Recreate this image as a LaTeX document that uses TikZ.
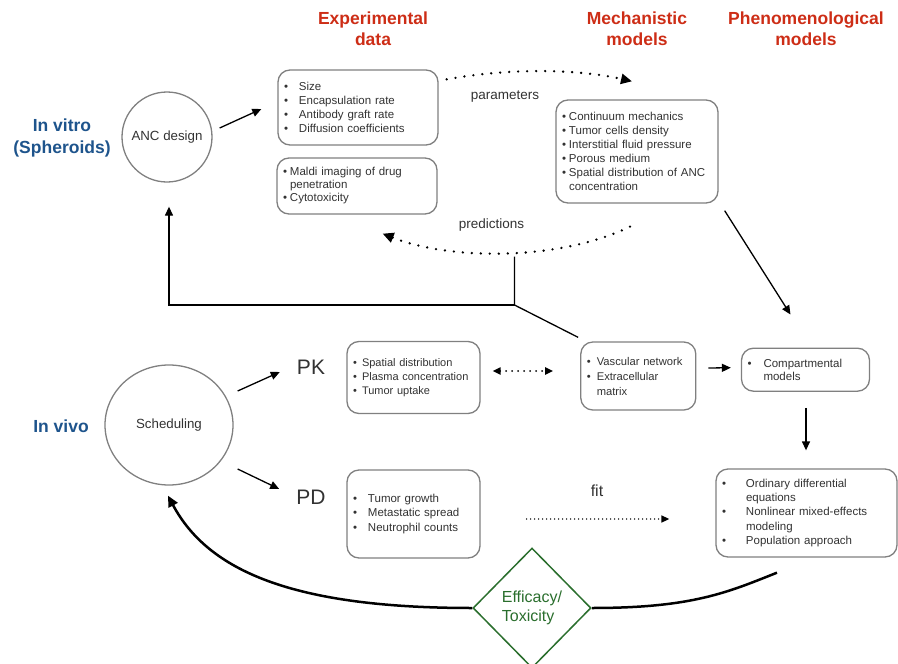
\documentclass[tikz,border=0pt]{standalone}
\usepackage{fontspec}
\setmainfont{Liberation Sans}
\usepackage{xcolor}
\usepackage{tikz}
\usetikzlibrary{arrows.meta, positioning, calc, shapes.geometric}
\definecolor{TitleRed}{RGB}{205, 45, 22}
\definecolor{SideBlue}{RGB}{30, 84, 140}
\definecolor{LineGray}{RGB}{128, 128, 128}
\definecolor{TextGray}{RGB}{50, 50, 50}
\definecolor{EffGreen}{RGB}{42, 110, 45}
\newcommand{\bul}[1][13pt]{\makebox[#1][l]{\textbullet}}
\newcommand{\bulind}[1][13pt]{\hspace*{#1}}
\newcommand{\fsz}[2]{\fontsize{#1}{#2}\selectfont}

\begin{document}
\begin{tikzpicture}[
    x=1pt, y=-1pt,
    listbox/.style={draw=LineGray, line width=1.3pt, rounded corners=12pt,
      align=left, inner xsep=6pt, inner ysep=0pt, text=TextGray,
      font=\fsz{11.5}{14}},
    stagecirc/.style={draw=LineGray, line width=1.3pt, inner sep=0pt,
      text=TextGray, font=\fsz{13.3}{16}},
    headline/.style={align=center, text=TitleRed, font=\bfseries\fsz{17.5}{21}},
    sidelabel/.style={align=center, text=SideBlue, font=\bfseries\fsz{17.5}{22}},
    plainlabel/.style={text=TextGray, font=\fsz{13.5}{16}},
    phaselabel/.style={inner sep=0pt, text=TextGray, font=\fsz{21}{24}},
    arr/.style={line width=1.3pt, -{Triangle[length=9pt, width=8pt]}},
    dotarr/.style={line width=2.6pt, line cap=round, dash pattern=on 0pt off 9pt,
      -{Triangle[length=11pt, width=10pt]}},
    dotboth/.style={line width=2pt, line cap=round, dash pattern=on 0pt off 6pt,
      {Triangle[length=8pt, width=7pt]}-{Triangle[length=8pt, width=7pt]}},
    dotfit/.style={line width=1.6pt, line cap=round, dash pattern=on 0pt off 4pt,
      -{Triangle[length=8pt, width=7pt]}},
    loopcurve/.style={line width=2.5pt},
    loopline/.style={loopcurve, -{Triangle[length=11pt, width=10pt]}}
  ]
  \useasboundingbox (0,0) rectangle (898,664);

  \node[sidelabel] (vitrolabel) at (62,137.5) {In vitro\\(Spheroids)};
  \node[sidelabel] (vivolabel) at (61,426) {In vivo};
  \node[headline] (exphead) at (373,29) {Experimental\\data};
  \node[headline] (mechhead) at (637,29) {Mechanistic\\models};
  \node[headline] (phenhead) at (806,29) {Phenomenological\\models};

  \node[stagecirc, circle, minimum size=90pt] (ancnode) at (167,137) {ANC design};
  \node[stagecirc, ellipse, minimum width=128pt, minimum height=120pt]
    (schednode) at (169,425) {Scheduling};

  \node[listbox, text width=148pt, minimum height=75pt] (sizebox) at (358,107.5) {
    \bul[15pt]Size\\
    \bul[15pt]Encapsulation rate\\
    \bul[15pt]Antibody graft rate\\
    \bul[15pt]Diffusion coefficients};
  \node[listbox, text width=148pt, minimum height=56pt, font=\fsz{11.5}{13}]
    (maldibox) at (357,186) {
    \bul[7pt]Maldi imaging of drug\\
    \bulind[7pt]penetration\\
    \bul[7pt]Cytotoxicity};
  \node[listbox, text width=150pt, minimum height=103pt] (mechbox) at (637,151.5) {
    \bul[7pt]Continuum mechanics\\
    \bul[7pt]Tumor cells density\\
    \bul[7pt]Interstitial fluid pressure\\
    \bul[7pt]Porous medium\\
    \bul[7pt]Spatial distribution of ANC\\
    \bulind[7pt]concentration};

  \node[phaselabel] (pklabel) at (311,367) {PK};
  \node[phaselabel] (pdlabel) at (311,497) {PD};

  \node[listbox, text width=121pt, minimum height=72pt, font=\fsz{11}{14.2}]
    (pkbox) at (413.5,377.5) {
    \bul[9pt]Spatial distribution\\
    \bul[9pt]Plasma concentration\\
    \bul[9pt]Tumor uptake};
  \node[listbox, text width=103pt, minimum height=68pt, font=\fsz{11.2}{15}]
    (vascbox) at (638.3,376) {
    \bul[10pt]Vascular network\\
    \bul[10pt]Extracellular\\
    \bulind[10pt]matrix};
  \node[listbox, text width=116pt, minimum height=43pt, font=\fsz{11.5}{13.5}]
    (compbox) at (805.5,369.7) {
    \bul[16pt]Compartmental\\
    \bulind[16pt]models};
  \node[listbox, text width=121pt, minimum height=88pt, font=\fsz{11.5}{14.5}]
    (pdbox) at (413.5,514) {
    \bul[15pt]Tumor growth\\
    \bul[15pt]Metastatic spread\\
    \bul[15pt]Neutrophil counts};
  \node[listbox, text width=169pt, minimum height=88pt, font=\fsz{11.5}{14.3}]
    (odebox) at (806.5,513) {
    \bul[24pt]Ordinary differential\\
    \bulind[24pt]equations\\
    \bul[24pt]Nonlinear mixed-effects\\
    \bulind[24pt]modeling\\
    \bul[24pt]Population approach};

  \node[diamond, draw=EffGreen, line width=1.5pt, minimum width=118pt,
    minimum height=120pt, inner sep=1pt, align=left, text=EffGreen,
    font=\fsz{16}{19.5}] (effnode) at (532,608) {Efficacy/\\Toxicity};

  \node[plainlabel] (paramlabel) at (505,97) {parameters};
  \node[plainlabel] (predlabel) at (491.5,225) {predictions};
  \node[plainlabel, font=\fsz{16}{19}] (fitlabel) at (597,491) {fit};

  \coordinate (predlow) at (514.5,256.5);
  \coordinate (junc) at (514.5,305);

  \draw[arr] ($(ancnode.east)+(7,-9)$) -- ($(sizebox.west)+(-16,1.5)$);
  \draw[arr] ($(schednode.east)+(4,-34)$) -- ($(pklabel.west)+(-17,5)$);
  \draw[arr] ($(schednode.east)+(4,44)$) -- ($(pdlabel.west)+(-17,-8)$);

  \draw[dotarr] ($(sizebox.north east)+(8,10)$)
    .. controls +(60,-11) and +(-57,-13) .. ($(mechbox.north)+(-5,-18)$);
  \draw[dotarr] ($(mechbox.south)+(-7,23)$)
    .. controls +(-70,34) and +(68,27) .. ($(maldibox.south east)+(-55,19)$);

  \draw[line width=1.3pt] ($(vascbox.north west)+(-2,-4)$) -- (junc) -- (predlow);
  \draw[arr] (junc) -| ($(ancnode.south)+(2,24)$);

  \draw[arr] ($(mechbox.south east)+(6,7)$) -- ($(compbox.north)+(-15,-33)$);
  \draw[dotboth] ($(pkbox.east)+(12,-6.5)$) -- ($(vascbox.west)+(-27,-5)$);
  \draw[arr] ($(vascbox.east)+(12,-8)$) -- ($(compbox.west)+(-10,-2)$);
  \draw[arr] ($(compbox.south)+(0.5,16)$) -- ($(odebox.north)+(-0.5,-18)$);
  \draw[dotfit] ($(pdbox.east)+(46,5)$) -- ($(odebox.west)+(-46,6)$);

  \draw[loopcurve] ($(odebox.south)+(-29.5,15)$)
    .. controls +(-50,20) and +(100,0) .. (effnode.east);
  \draw[loopline] (effnode.west)
    .. controls +(-180,0) and +(40,75) .. ($(schednode.south)+(-1,10)$);
\end{tikzpicture}
\end{document}
